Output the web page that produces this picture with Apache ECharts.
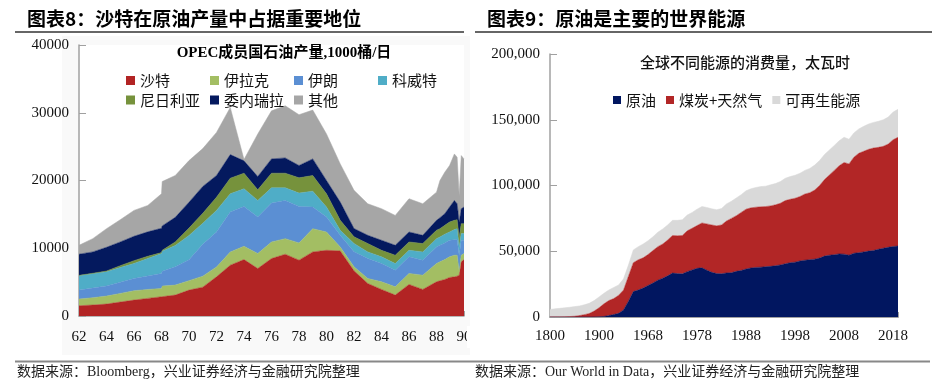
<!DOCTYPE html>
<html><head><meta charset="utf-8">
<script src="https://cdn.jsdelivr.net/npm/echarts@6/dist/echarts.min.js"></script>
<style>html,body{margin:0;padding:0;background:#fff}#c{width:949px;height:385px}</style>
</head><body><div id="c"></div>
<script>
// ---------- Chart 8: OPEC production (1000 b/d) ----------
const opecYears = [62,63,64,65,66,67,68,68.05,69,70,71,72,73,74,75,76,77,78,79,80,81,82,83,84,85,86,87,88,88.25,88.6,88.95,89.3,89.5,89.65,89.8,90];
const saudi     = [1515,1620,1760,2060,2350,2600,2840,2840,3090,3820,4260,5780,7500,8330,7010,8480,9120,8240,9460,9700,9610,6670,4800,3920,3090,4660,3920,5050,5200,5390,5690,5780,5880,6030,7990,8330];
const iraq      = [985,1080,1180,1270,1380,1320,1230,1570,1470,1400,1620,1470,1960,1960,2210,2450,2300,2540,3430,2700,580,600,740,1130,1220,1620,2110,2700,2790,2940,3040,3190,3090,500,980,890];
const iran      = [1320,1420,1500,1650,1800,2000,2200,2200,2700,3100,4710,5150,5880,5890,5380,5740,5640,5400,3190,2200,1720,2210,2940,2700,2450,2450,2210,2440,2450,2450,2450,2300,2300,2400,2210,1960];
const kuwait    = [2110,2110,2080,2180,2220,2580,2950,2950,3140,3580,3090,3190,2700,2600,2460,2250,1860,1960,2350,1480,740,1230,980,980,990,970,1220,1230,1230,1280,1220,1480,1620,1220,980,980];
const nigeria   = [70,80,120,270,420,320,140,140,540,1080,1470,1950,2300,2300,1570,2160,2160,2250,2310,1960,1470,980,1230,970,1220,1230,1230,1230,1220,1320,1470,1370,1320,1480,1470,1470];
const venezuela = [3120,3150,3500,3500,3600,3600,3600,3600,3620,3820,3970,3200,3480,1820,1960,2110,2250,1820,2450,1960,2690,1220,1220,1480,1470,1470,1220,1470,1620,1720,2210,2940,2360,2200,2210,2450];
const others    = [1320,1960,2750,3280,3820,3900,5080,6550,6180,6140,5590,6360,6960,200,6280,7100,7700,7500,7210,6870,5640,5640,4660,4660,4410,4910,4660,4160,5490,6120,6130,6860,6860,3920,7840,7110];

// ---------- Chart 9: world energy consumption (TWh) ----------
const energyYears = ['1800','1810','1820','1830','1840','1850','1860','1870','1880','1890','1900','1910','1920','1930','1940','1950','1960',
 '1965','1966','1967','1968','1969','1970','1971','1972','1973','1974','1975','1976','1977','1978','1979','1980','1981','1982','1983','1984',
 '1985','1986','1987','1988','1989','1990','1991','1992','1993','1994','1995','1996','1997','1998','1999','2000','2001','2002','2003','2004',
 '2005','2006','2007','2008','2009','2010','2011','2012','2013','2014','2015','2016','2017','2018','2019'];
const oil = [0,0,0,0,0,0,0,6,33,89,181,421,1100,1900,2800,5400,12000,
 19300,20500,22000,24000,25800,28000,29500,31300,33400,33000,
 32800,34500,35800,37000,37400,35600,34000,33000,32900,33500,
 33700,34700,35400,36500,37300,37700,37900,38300,38500,39000,
 39600,40500,41300,41700,42600,43200,43600,44000,44800,46300,
 47000,47400,48000,47800,47000,48500,48900,49500,50100,50600,
 51500,52300,53000,53600,54000];
const coalGas = [97,128,153,264,356,569,1061,1784,2617,4411,6819,9579,11400,12100,13700,15100,19000,
 22000,23000,23000,23500,24700,25500,26000,27200,28600,28800,
 29200,31000,31700,32500,34100,35200,36000,36300,37100,39500,
 41300,42300,44100,45500,45700,45800,45900,45700,46000,46300,
 46900,48000,48200,48600,49000,50300,50900,52500,55200,58200,
 61000,64100,67000,69700,69400,73000,75600,76500,77400,77900,
 77500,77500,78500,81200,82700];
const renewables = [5700,6070,6450,6740,7040,7330,7340,7510,7750,8000,8200,8000,8000,8500,7900,8500,8500,
 9700,10000,10500,10500,10500,11000,11500,11500,11500,11700,
 12000,12000,12000,12500,12500,12500,12300,12300,12500,13000,
 13000,13500,13500,14000,14500,15000,15400,15500,16000,16200,
 16500,17000,17300,17500,17700,18000,18500,19000,19000,19000,
 19000,19000,19000,19200,18800,18500,18500,19000,19300,19500,
 19800,20200,20500,21000,21300];

const SERIF = "'Liberation Serif','Noto Sans CJK SC',serif";
const CJK = "'Noto Sans CJK SC','Liberation Serif',sans-serif";

const opecDefs = [
  ['沙特', saudi, '#B22424'],
  ['伊拉克', iraq, '#A3BE63'],
  ['伊朗', iran, '#5B8FD3'],
  ['科威特', kuwait, '#4FADC7'],
  ['尼日利亚', nigeria, '#76923C'],
  ['委内瑞拉', venezuela, '#04195E'],
  ['其他', others, '#A6A6A6']
];
const energyDefs = [
  ['原油', oil, '#011660'],
  ['煤炭+天然气', coalGas, '#B22626'],
  ['可再生能源', renewables, '#D9D9D9']
];

const legendPos = {
  '沙特':[126,73], '伊拉克':[210,73], '伊朗':[294,73], '科威特':[378,73],
  '尼日利亚':[126,92.5], '委内瑞拉':[210,92.5], '其他':[294,92.5]
};

const axisGray = '#A0A0A0';
function valueAxisCommon(fmt) {
  return {
    axisLine:{show:true, lineStyle:{color:axisGray, width:1.5}},
    axisTick:{show:true, inside:true, length:7, lineStyle:{color:axisGray}},
    splitLine:{show:false},
    axisLabel:{color:'#111', fontFamily:SERIF, fontSize:15, margin:10, formatter:fmt}
  };
}

const series = [];
opecDefs.forEach(([name, vals, color]) => {
  series.push({
    name, type:'line', xAxisIndex:0, yAxisIndex:0, stack:'opec', symbol:'none',
    lineStyle:{width:0.5, color}, itemStyle:{color}, areaStyle:{color, opacity:1},
    emphasis:{disabled:true},
    encode:{x:1, y:0},
    data: opecYears.map((yr,i)=>[vals[i], yr])
  });
});
energyDefs.forEach(([name, vals, color]) => {
  series.push({
    name, type:'line', xAxisIndex:1, yAxisIndex:1, stack:'energy', symbol:'none',
    lineStyle:{width:0.5, color}, itemStyle:{color}, areaStyle:{color, opacity:1},
    emphasis:{disabled:true},
    data: vals
  });
});

const legends = opecDefs.map(([name]) => ({
  data:[name], left:legendPos[name][0], top:legendPos[name][1], padding:0,
  icon:'rect', itemWidth:9, itemHeight:9, itemGap:0, selectedMode:false,
  textStyle:{fontSize:15, fontFamily:CJK, color:'#111'}
}));
legends.push({
  data: energyDefs.map(d=>d[0]), left:613, top:92.5, padding:0, orient:'horizontal',
  icon:'rect', itemWidth:8, itemHeight:8, itemGap:10, selectedMode:false,
  textStyle:{fontSize:15, fontFamily:CJK, color:'#111'}
});

const chart = echarts.init(document.getElementById('c'), null, {renderer:'canvas'});
chart.setOption({
  animation:false,
  backgroundColor:'#ffffff',
  grid:[
    {left:79, top:45, width:385, height:271, containLabel:false},
    {left:550, top:54, width:348, height:263, containLabel:false}
  ],
  xAxis:[
    {type:'value', gridIndex:0, min:62, max:90, interval:2,
     axisLine:{show:true, lineStyle:{color:axisGray, width:1.5}},
     axisTick:{show:true, inside:true, length:5, lineStyle:{color:axisGray}},
     splitLine:{show:false},
     axisLabel:{color:'#111', fontFamily:SERIF, fontSize:15, margin:14, formatter:v=>String(v)}},
    {type:'category', gridIndex:1, data:energyYears, boundaryGap:false,
     axisLine:{show:true, lineStyle:{color:axisGray, width:2}},
     axisTick:{show:true, inside:true, length:5, interval:0, lineStyle:{color:axisGray}},
     splitLine:{show:false},
     axisLabel:{color:'#111', fontFamily:SERIF, fontSize:15, margin:12, interval:9}}
  ],
  yAxis:[
    Object.assign({type:'value', gridIndex:0, min:0, max:40000, interval:10000}, valueAxisCommon(v=>String(v))),
    Object.assign({type:'value', gridIndex:1, min:0, max:200000, interval:50000}, valueAxisCommon(v=>v.toLocaleString('en-US')))
  ],
  legend: legends,
  series,
  graphic:[
    {type:'rect', z:-10, silent:true, shape:{x:62,y:36,width:408,height:319}, style:{fill:'#F9F9F9'}},
    {type:'rect', z:-9, silent:true, shape:{x:79,y:45,width:385,height:271}, style:{fill:'#FFFFFF'}},
    {type:'text', left:27, top:9, style:{text:'图表8：沙特在原油产量中占据重要地位', font:"bold 19px 'Noto Sans CJK SC'", fill:'#000'}},
    {type:'text', left:487, top:9, style:{text:'图表9：原油是主要的世界能源', font:"bold 19px 'Noto Sans CJK SC'", fill:'#000'}},
    {type:'line', shape:{x1:15,y1:32,x2:464,y2:32}, style:{stroke:'#333', lineWidth:1.5}},
    {type:'line', shape:{x1:475,y1:32,x2:932,y2:32}, style:{stroke:'#333', lineWidth:1.5}},
    {type:'text', x:284, y:53, style:{text:'OPEC成员国石油产量,1000桶/日', font:"bold 15px 'Liberation Serif','Noto Sans CJK SC'", fill:'#000', align:'center', verticalAlign:'middle'}},
    {type:'text', x:745, y:62, style:{text:'全球不同能源的消费量，太瓦时', font:"500 15px 'Noto Sans CJK SC'", fill:'#111', align:'center', verticalAlign:'middle'}},
    {type:'rect', z:100, silent:true, shape:{x:467,y:326,width:8,height:22}, style:{fill:'#FFFFFF'}},
    {type:'line', shape:{x1:15,y1:361.5,x2:470,y2:361.5}, style:{stroke:'#888', lineWidth:2}},
    {type:'line', shape:{x1:470,y1:361.5,x2:930,y2:361.5}, style:{stroke:'#888', lineWidth:2}},
    {type:'text', x:17, y:372, style:{text:'数据来源：Bloomberg，兴业证券经济与金融研究院整理', font:"14px 'Liberation Serif','Noto Sans CJK SC'", fill:'#222', verticalAlign:'middle'}},
    {type:'text', x:475, y:372, style:{text:'数据来源：Our World in Data，兴业证券经济与金融研究院整理', font:"14px 'Liberation Serif','Noto Sans CJK SC'", fill:'#222', verticalAlign:'middle'}}
  ]
});
</script></body></html>
